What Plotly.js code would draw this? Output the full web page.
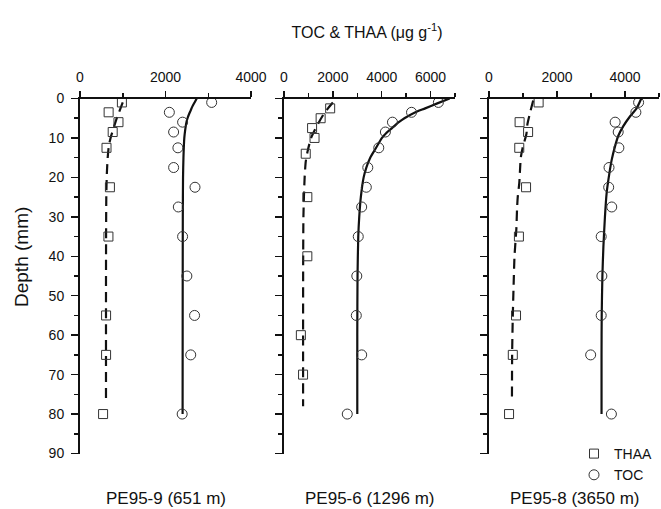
<!DOCTYPE html>
<html>
<head>
<meta charset="utf-8">
<script src="https://cdn.plot.ly/plotly-3.0.1.min.js"></script>
<style>html,body{margin:0;padding:0;background:#fff;}#chart{width:661px;height:509px;}</style>
</head>
<body>
<div id="chart"></div>
<script>
// ---- Data ----
const panelLabels = ["PE95-9 (651 m)", "PE95-6 (1296 m)", "PE95-8 (3650 m)"];
const xRanges = [[0, 4000], [0, 7000], [0, 5000]];
const yTickVals = [0, 10, 20, 30, 40, 50, 60, 70, 80, 90];

// TOC measurement depths (mm), shared by all cores
const tocDepth = [1, 3.5, 6, 8.5, 12.5, 17.5, 22.5, 27.5, 35, 45, 55, 65, 80];

// PE95-9
const thaaDepth1 = [1, 3.5, 6, 8.5, 12.5, 22.5, 35, 55, 65, 80];
const thaa1 = [980, 670, 900, 765, 620, 700, 665, 610, 610, 540];
const toc1 = [3080, 2090, 2400, 2190, 2290, 2190, 2690, 2300, 2400, 2500, 2680, 2590, 2390];
const tocFitDepth1 = [0, 1, 2, 3, 4, 5, 6, 8, 10, 15, 20, 30, 50, 80];
const tocFit1 = [2730, 2680, 2630, 2590, 2550, 2515, 2490, 2460, 2440, 2420, 2410, 2405, 2402, 2400];
const thaaFitDepth1 = [1, 3, 4.5, 6, 8, 10, 12, 15, 19, 25, 40, 60, 77];
const thaaFit1 = [1000, 930, 875, 830, 770, 715, 675, 648, 628, 615, 609, 608, 608];

// PE95-6
const thaaDepth2 = [2.5, 5, 7.5, 10, 14, 25, 40, 60, 70];
const thaa2 = [1890, 1500, 1150, 1250, 890, 955, 955, 690, 780];
const toc2 = [6320, 5220, 4440, 4150, 3880, 3430, 3370, 3180, 3040, 2980, 2960, 3180, 2590];
const tocFitDepth2 = [0, 1.3, 2.5, 3.6, 5, 6, 7.5, 8.8, 10, 12.8, 15, 17.5, 20, 25, 30, 35, 45, 60, 80];
const tocFit2 = [6780, 6250, 5780, 5340, 4930, 4700, 4420, 4180, 4010, 3740, 3530, 3370, 3260, 3145, 3080, 3040, 3010, 3000, 3000];
const thaaFitDepth2 = [1, 2.5, 4, 6, 8, 10, 13, 16, 20, 25, 30, 40, 60, 78];
const thaaFit2 = [2000, 1800, 1620, 1430, 1260, 1110, 980, 890, 845, 815, 795, 785, 781, 781];

// PE95-8
const thaaDepth3 = [1, 6, 8.5, 12.5, 22.5, 35, 55, 65, 80];
const thaa3 = [1460, 900, 1150, 890, 1090, 880, 795, 700, 590];
const toc3 = [4400, 4320, 3710, 3800, 3820, 3530, 3520, 3610, 3300, 3320, 3300, 2990, 3600];
const tocFitDepth3 = [0, 2.5, 4.5, 7, 9.5, 12, 15.5, 19, 24, 30, 37.5, 45, 55, 65, 80];
const tocFit3 = [4480, 4340, 4150, 3950, 3800, 3710, 3610, 3540, 3460, 3410, 3365, 3335, 3315, 3310, 3310];
const thaaFitDepth3 = [0.5, 3, 6.5, 9, 12.5, 15, 18.5, 21.5, 25, 28, 33, 40, 47, 55, 65, 77];
const thaaFit3 = [1300, 1225, 1130, 1100, 990, 935, 910, 890, 845, 825, 805, 750, 725, 700, 680, 675];

// ---- Build traces ----
const W = 661, H = 509;
const FONT = "'Liberation Sans', Arial, Helvetica, sans-serif";
const markerCol = '#333';
const panels = [
  {thaaD: thaaDepth1, thaa: thaa1, toc: toc1, tfD: tocFitDepth1, tf: tocFit1, hfD: thaaFitDepth1, hf: thaaFit1},
  {thaaD: thaaDepth2, thaa: thaa2, toc: toc2, tfD: tocFitDepth2, tf: tocFit2, hfD: thaaFitDepth2, hf: thaaFit2},
  {thaaD: thaaDepth3, thaa: thaa3, toc: toc3, tfD: tocFitDepth3, tf: tocFit3, hfD: thaaFitDepth3, hf: thaaFit3}
];
const traces = [];
panels.forEach((p, i) => {
  const xa = i === 0 ? 'x' : 'x' + (i + 1);
  const ya = i === 0 ? 'y' : 'y' + (i + 1);
  traces.push({x: p.hf, y: p.hfD, xaxis: xa, yaxis: ya, mode: 'lines', type: 'scatter',
    line: {color: '#111', width: 2.2, dash: '10px,6px', shape: 'spline', smoothing: 0.6}, showlegend: false, hoverinfo: 'skip'});
  traces.push({x: p.tf, y: p.tfD, xaxis: xa, yaxis: ya, mode: 'lines', type: 'scatter',
    line: {color: '#111', width: 2.2, shape: 'spline', smoothing: 0.6}, showlegend: false, hoverinfo: 'skip'});
  traces.push({x: p.thaa, y: p.thaaD, xaxis: xa, yaxis: ya, mode: 'markers', type: 'scatter', name: 'THAA',
    marker: {symbol: 'square-open', size: 9, color: markerCol, line: {width: 1, color: markerCol}}, showlegend: i === 0});
  traces.push({x: p.toc, y: tocDepth, xaxis: xa, yaxis: ya, mode: 'markers', type: 'scatter', name: 'TOC',
    marker: {symbol: 'circle-open', size: 10, color: markerCol, line: {width: 1, color: markerCol}}, showlegend: i === 0});
});

// ---- Layout ----
const xPix = [[80, 251], [284, 455], [489, 659]];
const yTop = 98.5, yBot = 453.5;
const yDomain = [1 - yBot / H, 1 - yTop / H];
const layout = {
  width: W, height: H,
  margin: {l: 0, r: 0, t: 0, b: 0},
  paper_bgcolor: '#fff', plot_bgcolor: 'rgba(0,0,0,0)',
  font: {family: FONT, color: '#111', size: 13},
  title: {text: 'TOC &amp; THAA (μg g<sup>-1</sup>)', x: 367 / W, xanchor: 'center', y: 1 - 32 / H, yanchor: 'middle', yref: 'container',
    font: {family: FONT, size: 16, color: '#111'}},
  showlegend: true,
  legend: {x: 574 / W, xanchor: 'left', y: 1 - 438 / H, yanchor: 'top', bgcolor: 'rgba(0,0,0,0)',
    font: {family: FONT, size: 14, color: '#111'}, tracegroupgap: 0, itemwidth: 30},
  annotations: [
    {text: 'Depth (mm)', xref: 'paper', yref: 'paper', x: 21 / W, y: 1 - 257 / H, textangle: -90, showarrow: false,
      xanchor: 'center', yanchor: 'middle', font: {family: FONT, size: 19, color: '#111'}}
  ]
};
panelLabels.forEach((lab, i) => {
  layout.annotations.push({text: lab, xref: 'paper', yref: 'paper', x: ((xPix[i][0] + xPix[i][1]) / 2) / W, y: 1 - 498 / H,
    showarrow: false, xanchor: 'center', yanchor: 'middle', font: {family: FONT, size: 17, color: '#111'}});
});
for (let i = 0; i < 3; i++) {
  const xk = i === 0 ? 'xaxis' : 'xaxis' + (i + 1);
  const yk = i === 0 ? 'yaxis' : 'yaxis' + (i + 1);
  const ya = i === 0 ? 'y' : 'y' + (i + 1);
  const xa = i === 0 ? 'x' : 'x' + (i + 1);
  layout[xk] = {
    domain: [xPix[i][0] / W, xPix[i][1] / W], anchor: ya, side: 'top', range: xRanges[i],
    showline: true, linecolor: '#111', linewidth: 2, showgrid: false, zeroline: false,
    ticks: 'outside', ticklen: 6, tickwidth: 1.5, tickcolor: '#111', dtick: 2000, tick0: 0,
    ticklabelstandoff: 3,
    minor: {ticks: 'outside', ticklen: 4, tickwidth: 1.5, tickcolor: '#111', dtick: 1000, showgrid: false},
    tickfont: {family: FONT, size: 14, color: '#111'}, fixedrange: true
  };
  layout[yk] = {
    domain: yDomain, anchor: xa, range: [90, 0], showline: true, linecolor: '#111', linewidth: 2,
    showgrid: false, zeroline: false, ticks: 'outside', ticklen: 7, tickwidth: 1.5, tickcolor: '#111',
    tickvals: yTickVals, ticktext: yTickVals.map(String), showticklabels: i === 0, ticklabelstandoff: 4,
    minor: {ticks: 'outside', ticklen: 4, tickwidth: 1.5, tickcolor: '#111', dtick: 5, showgrid: false},
    tickfont: {family: FONT, size: 14, color: '#111'}, fixedrange: true
  };
}
Plotly.newPlot('chart', traces, layout, {displayModeBar: false, staticPlot: true});
</script>
</body>
</html>
